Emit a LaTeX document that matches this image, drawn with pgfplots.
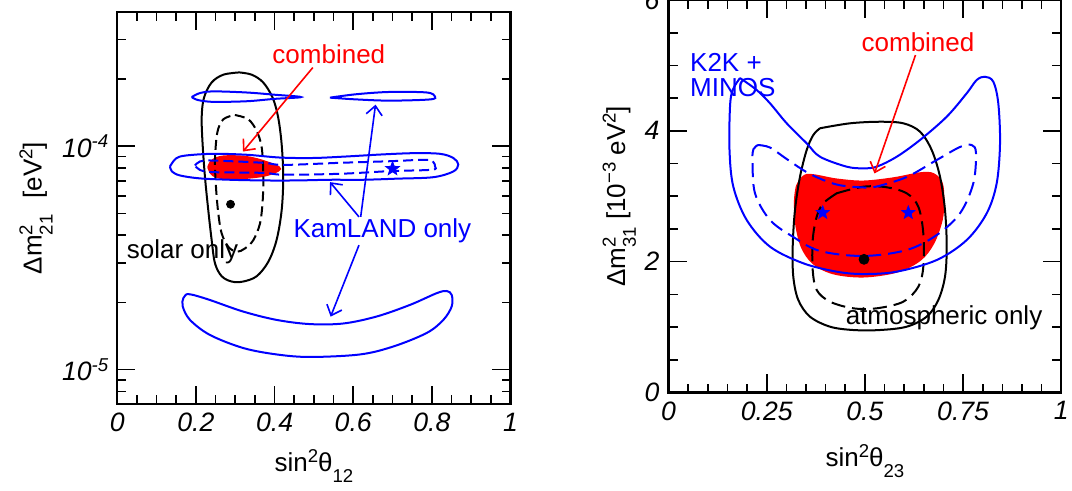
\documentclass[border=0pt]{standalone}
\usepackage{fontspec}
\setmainfont{Liberation Sans}
\usepackage{pgfplots}
\pgfplotsset{compat=1.18}
\usetikzlibrary{arrows.meta}

\pgfdeclareplotmark{fstar}{%
  \pgfpathmoveto{\pgfpointpolar{90}{\pgfplotmarksize}}%
  \pgfpathlineto{\pgfpointpolar{126}{0.42\pgfplotmarksize}}%
  \pgfpathlineto{\pgfpointpolar{162}{\pgfplotmarksize}}%
  \pgfpathlineto{\pgfpointpolar{198}{0.42\pgfplotmarksize}}%
  \pgfpathlineto{\pgfpointpolar{234}{\pgfplotmarksize}}%
  \pgfpathlineto{\pgfpointpolar{270}{0.42\pgfplotmarksize}}%
  \pgfpathlineto{\pgfpointpolar{306}{\pgfplotmarksize}}%
  \pgfpathlineto{\pgfpointpolar{342}{0.42\pgfplotmarksize}}%
  \pgfpathlineto{\pgfpointpolar{18}{\pgfplotmarksize}}%
  \pgfpathlineto{\pgfpointpolar{54}{0.42\pgfplotmarksize}}%
  \pgfpathclose
  \pgfusepathqfillstroke}

\newcommand{\sps}[1]{\raisebox{0.36em}{\fontsize{9.3bp}{9.3bp}\selectfont #1}}
\newcommand{\sbs}[1]{\raisebox{-0.42em}{\fontsize{9.3bp}{9.3bp}\selectfont #1}}
\newcommand{\stk}[2]{\rlap{\sps{#1}}\sbs{#2}}

\pgfplotsset{
  myaxis/.style={
    scale only axis, clip=false,
    xmin=0, xmax=1,
    tick align=inside,
    major tick length=9bp, minor tick length=4.5bp,
    tick style={black, line width=0.8bp},
    axis line style={line width=1.1bp},
    ticklabel style={font=\fontsize{13.3bp}{16bp}\selectfont\itshape},
    /pgf/number format/assume math mode=true,
  },
  cont/.style={line width=1bp, smooth, tension=0.55, mark=none},
}

\begin{document}
\fontsize{13bp}{15.6bp}\selectfont
\begin{tikzpicture}[font=\fontsize{13bp}{15.6bp}\selectfont]

% ---------------- left panel ----------------
\begin{axis}[myaxis,
  at={(58.65bp,43.35bp)}, anchor=south west,
  width=196.6bp, height=196.3bp,
  ymode=log, ymin=7e-6, ymax=4e-4,
  xtick={0,0.2,0.4,0.6,0.8,1},
  xticklabels={0,0.2,0.4,0.6,0.8,1},
  minor xtick={0.05,0.1,0.15,0.25,0.3,0.35,0.45,0.5,0.55,0.65,0.7,0.75,0.85,0.9,0.95},
  ytick={1e-5,1e-4},
  yticklabels={10\sps{-5},10\sps{-4}},
  minor ytick={8e-6,9e-6,2e-5,3e-5,4e-5,5e-5,6e-5,7e-5,8e-5,9e-5,2e-4,3e-4},
]
% combined (filled)
\addplot[cont, draw=red, fill=red] coordinates {
(0.2314,8.06e-5)(0.2408,8.63e-5)(0.2696,9.00e-5)(0.329,8.95e-5)(0.380,8.49e-5)
(0.4138,7.92e-5)(0.3713,7.37e-5)(0.2866,7.16e-5)(0.2441,7.40e-5)(0.2314,8.06e-5)};
% solar only, solid
\addplot[cont, black] coordinates {
(0.310,2.14e-4)(0.342,2.09e-4)(0.371,1.93e-4)(0.395,1.65e-4)(0.409,1.35e-4)
(0.418,1.02e-4)(0.422,7.27e-5)(0.418,5.17e-5)(0.405,3.80e-5)(0.384,3.04e-5)
(0.3545,2.62e-5)(0.320,2.48e-5)(0.291,2.48e-5)(0.2655,2.62e-5)(0.2485,2.99e-5)
(0.240,3.80e-5)(0.2314,5.17e-5)(0.223,7.27e-5)(0.217,1.02e-4)(0.2146,1.35e-4)
(0.2205,1.65e-4)(0.240,1.93e-4)(0.2696,2.09e-4)(0.310,2.14e-4)};
% solar only, dashed
\addplot[cont, black, dash pattern=on 5bp off 2.5bp] coordinates {
(0.299,1.38e-4)(0.3332,1.32e-4)(0.3545,1.17e-4)(0.3672,9.90e-5)(0.3713,7.53e-5)
(0.3698,5.73e-5)(0.3629,4.51e-5)(0.3459,3.80e-5)(0.3248,3.49e-5)(0.3037,3.37e-5)
(0.2823,3.55e-5)(0.2655,4.07e-5)(0.2569,5.00e-5)(0.251,6.56e-5)(0.2485,8.63e-5)
(0.2543,1.15e-4)(0.2696,1.32e-4)(0.299,1.38e-4)};
% KamLAND solid, main island
\addplot[cont, blue] coordinates {
(0.134,8.12e-5)(0.1493,8.82e-5)(0.1747,9.09e-5)(0.2434,9.25e-5)(0.329,9.16e-5)
(0.4138,8.90e-5)(0.4985,8.86e-5)(0.5834,9.00e-5)(0.6681,9.18e-5)(0.7528,9.31e-5)
(0.8207,9.25e-5)(0.8545,8.86e-5)(0.8672,8.29e-5)(0.8545,7.71e-5)(0.8037,7.27e-5)
(0.7106,7.16e-5)(0.6256,7.08e-5)(0.541,7.08e-5)(0.4563,7.03e-5)(0.3713,7.03e-5)
(0.2866,7.08e-5)(0.2103,7.18e-5)(0.1595,7.40e-5)(0.1391,7.71e-5)(0.134,8.12e-5)};
% KamLAND dashed
\addplot[cont, blue, dash pattern=on 5bp off 2.5bp] coordinates {
(0.1976,8.20e-5)(0.2103,8.55e-5)(0.2441,8.63e-5)(0.3713,8.43e-5)(0.4222,8.25e-5)
(0.5664,8.43e-5)(0.6935,8.57e-5)(0.7869,8.70e-5)(0.8037,8.49e-5)(0.808,8.12e-5)
(0.7996,7.85e-5)(0.6935,7.74e-5)(0.5664,7.53e-5)(0.4222,7.46e-5)(0.3713,7.60e-5)
(0.2441,7.66e-5)(0.2103,7.83e-5)(0.1976,8.20e-5)};
% KamLAND upper lenses
\addplot[cont, blue] coordinates {
(0.1892,1.66e-4)(0.2103,1.73e-4)(0.2441,1.76e-4)(0.329,1.74e-4)(0.4011,1.70e-4)
(0.4672,1.66e-4)(0.4011,1.63e-4)(0.329,1.59e-4)(0.2441,1.58e-4)(0.2052,1.61e-4)(0.1892,1.66e-4)};
\addplot[cont, blue] coordinates {
(0.541,1.65e-4)(0.6088,1.71e-4)(0.6935,1.75e-4)(0.7869,1.74e-4)(0.808,1.67e-4)
(0.7953,1.62e-4)(0.6935,1.60e-4)(0.6088,1.62e-4)(0.541,1.65e-4)};
% KamLAND lower banana
\addplot[cont, blue] coordinates {
(0.1765,2.18e-5)(0.1933,2.16e-5)(0.2358,2.05e-5)(0.3204,1.82e-5)(0.4054,1.67e-5)
(0.4901,1.60e-5)(0.5748,1.61e-5)(0.6597,1.73e-5)(0.7444,1.95e-5)(0.8123,2.20e-5)
(0.8377,2.25e-5)(0.8505,2.16e-5)(0.8505,1.92e-5)(0.8291,1.67e-5)(0.7869,1.46e-5)
(0.7019,1.27e-5)(0.6172,1.17e-5)(0.4901,1.14e-5)(0.4054,1.17e-5)(0.3204,1.25e-5)
(0.2358,1.43e-5)(0.1849,1.67e-5)(0.1663,1.92e-5)(0.1679,2.09e-5)(0.1765,2.18e-5)};
% best fits
\addplot[only marks, mark=*, mark size=2bp, black] coordinates {(0.288,5.50e-5)};
\addplot[only marks, mark=fstar, mark size=3.6bp, blue] coordinates {(0.700,7.93e-5)};
% annotations
\node[red, anchor=base] at (axis cs:0.538,2.34e-4) {combined};
\draw[red, line width=0.8bp, -{Straight Barb[length=4.5bp,width=8bp]}] (axis cs:0.4973,2.25e-4) -- (axis cs:0.3197,9.47e-5);
\node[blue, anchor=base] at (axis cs:0.6742,3.92e-5) {KamLAND only};
\draw[blue, line width=0.8bp, -{Straight Barb[length=4.5bp,width=8bp]}] (axis cs:0.6147,4.83e-5) -- (axis cs:0.541,6.91e-5);
\draw[blue, line width=0.8bp, -{Straight Barb[length=4.5bp,width=8bp]}] (axis cs:0.619,4.83e-5) -- (axis cs:0.6567,1.535e-4);
\draw[blue, line width=0.8bp, -{Straight Barb[length=4.5bp,width=8bp]}] (axis cs:0.6147,3.61e-5) -- (axis cs:0.5425,1.728e-5);
\node[black, anchor=base west, inner sep=0pt] at (axis cs:0.0234,3.15e-5) {solar only};
% axis labels
\node[anchor=base] at (axis description cs:0.5,-0.1717) {sin\sps{2}θ\sbs{12}};
\node[rotate=90, anchor=base] at (axis description cs:-0.1923,0.5) {Δm\stk{2}{21}\hspace{8bp}[eV\sps{2}]};
\end{axis}

% ---------------- right panel ----------------
\begin{axis}[myaxis,
  at={(334.25bp,49.25bp)}, anchor=south west,
  width=196.4bp, height=196.25bp,
  ymin=0, ymax=6,
  xtick={0,0.25,0.5,0.75,1},
  xticklabels={0,0.25,0.5,0.75,1},
  minor x tick num=4,
  ytick={0,2,4,6},
  yticklabels={0,2,4,6},
  minor y tick num=3,
]
% combined (filled)
\addplot[cont, draw=red, fill=red] coordinates {
(0.3264,3.146)(0.3518,3.325)(0.4282,3.256)(0.4959,3.225)(0.5723,3.274)(0.6403,3.351)
(0.6741,3.340)(0.6955,3.202)(0.6996,2.943)(0.6955,2.637)(0.6741,2.281)(0.6403,2.025)
(0.581,1.847)(0.4959,1.773)(0.4196,1.822)(0.3686,1.975)(0.3391,2.229)(0.3246,2.586)
(0.322,2.943)(0.3264,3.146)};
% atmospheric only, solid
\addplot[cont, black] coordinates {
(0.3857,4.039)(0.4621,4.115)(0.5384,4.139)(0.5978,4.115)(0.6403,3.987)(0.670,3.707)
(0.6912,3.299)(0.7039,2.790)(0.7083,2.229)(0.7039,1.770)(0.6869,1.414)(0.6573,1.159)
(0.6064,1.006)(0.5384,0.955)(0.4705,0.955)(0.4111,1.006)(0.3602,1.159)(0.3304,1.414)
(0.3177,1.770)(0.3162,2.229)(0.322,2.790)(0.3348,3.299)(0.3518,3.707)(0.3686,3.936)
(0.3857,4.039)};
% atmospheric only, dashed
\addplot[cont, black, dash pattern=on 7bp off 3.5bp] coordinates {
(0.4282,3.045)(0.4959,3.146)(0.5555,3.137)(0.6064,3.045)(0.636,2.840)(0.6487,2.434)
(0.6487,1.923)(0.636,1.617)(0.5978,1.388)(0.530,1.287)(0.4705,1.287)(0.4111,1.388)
(0.3773,1.567)(0.3671,1.873)(0.3671,2.331)(0.3773,2.687)(0.3941,2.892)(0.4282,3.045)};
% K2K + MINOS, solid
\addplot[cont, blue] coordinates {
(0.182,4.807)(0.2245,4.624)(0.2584,4.421)(0.3009,4.115)(0.3518,3.809)(0.3857,3.604)
(0.4537,3.452)(0.4959,3.427)(0.530,3.452)(0.581,3.604)(0.6403,3.860)(0.7083,4.216)
(0.7592,4.574)(0.7846,4.777)(0.8057,4.827)(0.8269,4.751)(0.8396,4.421)(0.844,3.809)
(0.8355,3.198)(0.8101,2.739)(0.7592,2.331)(0.6828,2.025)(0.581,1.847)(0.4959,1.811)
(0.4282,1.847)(0.3432,1.975)(0.2584,2.229)(0.1991,2.637)(0.165,3.146)(0.1553,3.707)
(0.1566,4.369)(0.1634,4.624)(0.182,4.807)};
% K2K + MINOS, dashed
\addplot[cont, blue, dash pattern=on 7bp off 3.5bp] coordinates {
(0.2279,3.783)(0.2584,3.745)(0.3009,3.569)(0.3602,3.340)(0.4282,3.179)(0.4959,3.134)
(0.530,3.149)(0.6064,3.294)(0.6828,3.554)(0.7421,3.753)(0.7719,3.783)(0.7828,3.661)
(0.776,3.198)(0.7421,2.739)(0.6828,2.407)(0.6064,2.178)(0.4959,2.087)(0.3857,2.163)
(0.3177,2.377)(0.2584,2.637)(0.2202,3.045)(0.2138,3.554)(0.2164,3.722)(0.2279,3.783)};
% best fits
\addplot[only marks, mark=*, mark size=2.5bp, black] coordinates {(0.4977,2.036)};
\addplot[only marks, mark=fstar, mark size=3.4bp, blue] coordinates {(0.3926,2.748)(0.6105,2.748)};
% annotations
\node[red, anchor=base] at (axis cs:0.6352,5.209) {combined};
\draw[red, line width=0.8bp, -{Straight Barb[length=4.5bp,width=8bp]}] (axis cs:0.6288,5.159) -- (axis cs:0.5244,3.348);
\node[blue, anchor=base west, inner sep=0pt] at (axis cs:0.0542,4.904) {K2K +};
\node[blue, anchor=base west, inner sep=0pt] at (axis cs:0.0542,4.522) {MINOS};
\node[black, anchor=base west, inner sep=0pt] at (axis cs:0.4503,1.032) {atmospheric only};
% axis labels
\node[anchor=base] at (axis description cs:0.5,-0.189) {sin\sps{2}θ\sbs{23}};
\node[rotate=90, anchor=base] at (axis description cs:-0.1107,0.5) {Δm\stk{2}{31} [10\sps{−3} eV\sps{2}]};
\end{axis}

\pgfresetboundingbox
\path[use as bounding box] (0,0) rectangle (536bp,245.5bp);
\end{tikzpicture}
\end{document}
